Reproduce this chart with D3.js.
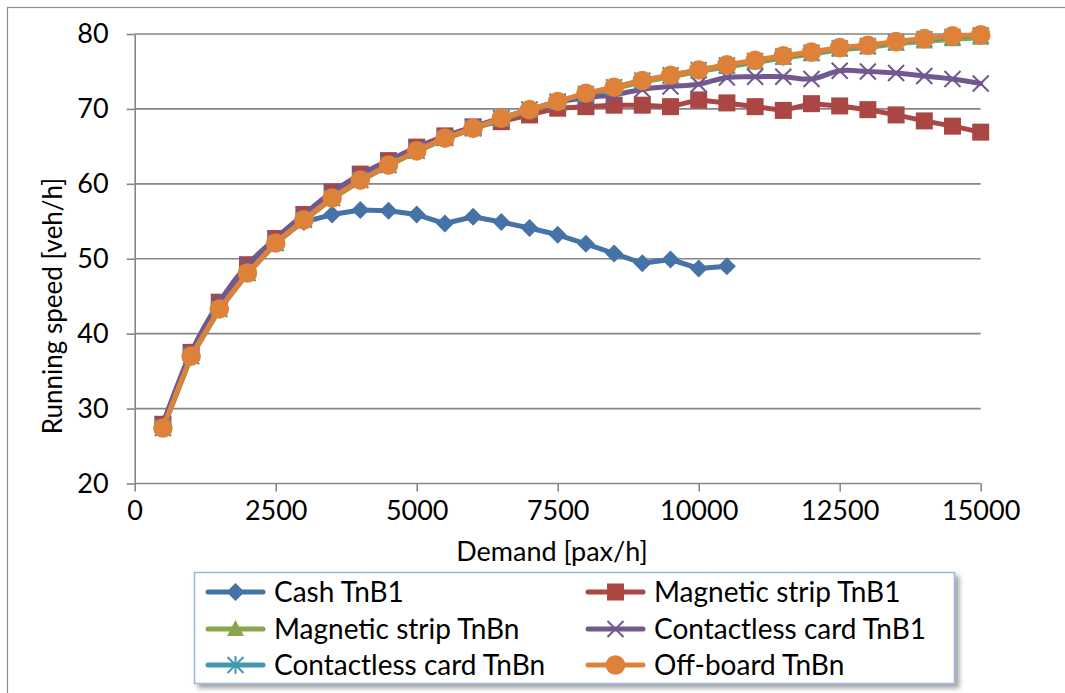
<!DOCTYPE html>
<html>
<head>
<meta charset="utf-8">
<script src="https://cdn.jsdelivr.net/npm/d3@7"></script>
<style>
  body { margin: 0; background: #fff; }
  svg { display: block; font-family: Lato, "Open Sans", sans-serif; }
  .axis path, .axis line { stroke: #868686; stroke-width: 1.6; }
  .axis text { font-size: 27px; fill: #000; font-family: Lato, sans-serif; }
</style>
</head>
<body>
<svg id="chart" width="1065" height="693"></svg>
<script>
// demand levels on the x axis
var demand = [500, 1000, 1500, 2000, 2500, 3000, 3500, 4000, 4500, 5000,
              5500, 6000, 6500, 7000, 7500, 8000, 8500, 9000, 9500, 10000,
              10500, 11000, 11500, 12000, 12500, 13000, 13500, 14000, 14500, 15000];

var cashTnB1 = [27.9, 37.5, 44.1, 49.1, 52.5, 54.9, 55.9, 56.5, 56.4, 55.9,
                54.7, 55.6, 54.9, 54.1, 53.2, 52.0, 50.7, 49.4, 49.9, 48.7, 49.0];
var magTnB1 = [27.9, 37.5, 44.2, 49.2, 52.7, 55.9, 58.9, 61.3, 63.1, 64.9,
               66.4, 67.6, 68.3, 69.2, 70.1, 70.3, 70.5, 70.5, 70.3, 71.2,
               70.8, 70.3, 69.8, 70.7, 70.4, 69.9, 69.2, 68.4, 67.7, 66.9];
var magTnBn = [27.3, 36.9, 43.2, 48.0, 52.0, 55.1, 58.0, 60.4, 62.4, 64.3,
               66.0, 67.3, 68.6, 69.8, 70.9, 71.9, 72.7, 73.6, 74.3, 75.0,
               75.6, 76.2, 76.8, 77.3, 77.9, 78.2, 78.7, 79.0, 79.3, 79.5];
var conTnB1 = [27.9, 37.5, 44.2, 49.2, 52.7, 55.9, 58.9, 61.2, 63.0, 64.8,
               66.2, 67.6, 68.8, 69.9, 70.9, 71.5, 71.9, 72.6, 73.0, 73.3,
               74.2, 74.3, 74.3, 74.0, 75.1, 75.0, 74.8, 74.4, 74.0, 73.4];
var conTnBn = [27.4, 37.0, 43.3, 48.1, 52.1, 55.2, 58.1, 60.5, 62.5, 64.4,
               66.1, 67.4, 68.7, 69.9, 71.0, 72.0, 72.9, 73.8, 74.5, 75.2,
               75.8, 76.4, 77.0, 77.5, 78.1, 78.4, 78.9, 79.3, 79.6, 79.8];
var offTnBn = [27.4, 37.0, 43.3, 48.1, 52.1, 55.2, 58.1, 60.5, 62.5, 64.4,
               66.1, 67.4, 68.75, 69.9, 71.0, 72.1, 72.9, 73.8, 74.5, 75.2,
               75.9, 76.5, 77.1, 77.6, 78.2, 78.5, 79.0, 79.4, 79.75, 79.9];

var xTicks = [0, 2500, 5000, 7500, 10000, 12500, 15000];
var yTicks = [20, 30, 40, 50, 60, 70, 80];

var series = [
  {name: "Cash TnB1", values: cashTnB1, color: "#4572A7", marker: "diamond"},
  {name: "Magnetic strip TnB1", values: magTnB1, color: "#AA4643", marker: "square"},
  {name: "Magnetic strip TnBn", values: magTnBn, color: "#89A54E", marker: "triangle"},
  {name: "Contactless card TnB1", values: conTnB1, color: "#71588F", marker: "x", smooth: true},
  {name: "Contactless card TnBn", values: conTnBn, color: "#4198AF", marker: "star"},
  {name: "Off-board TnBn", values: offTnBn, color: "#DE823A", marker: "circle"}
];

var svg = d3.select("#chart");

// chart border (runs off the right / bottom of the picture)
svg.append("rect").attr("x", 7.5).attr("y", 7.5).attr("width", 1100).attr("height", 800)
    .attr("fill", "none").attr("stroke", "#8c8c8c").attr("stroke-width", 1.2);

var x = d3.scaleLinear().domain([0, 15000]).range([134.7, 980.7]);
var y = d3.scaleLinear().domain([20, 80]).range([483.5, 34]);

// horizontal gridlines
svg.append("g").selectAll("line").data(yTicks).enter().append("line")
    .attr("x1", x(0)).attr("x2", x(15000))
    .attr("y1", function(d) { return y(d); }).attr("y2", function(d) { return y(d); })
    .attr("stroke", "#868686").attr("stroke-width", 1.6);

var yAxis = svg.append("g").attr("class", "axis")
    .attr("transform", "translate(" + x(0) + ",0)")
    .call(d3.axisLeft(y).tickValues(yTicks).tickSize(8).tickPadding(18).tickSizeOuter(0));

var xAxis = svg.append("g").attr("class", "axis")
    .attr("transform", "translate(0," + y(20) + ")")
    .call(d3.axisBottom(x).tickValues(xTicks).tickSize(8).tickPadding(8).tickSizeOuter(0)
        .tickFormat(d3.format("d")));
xAxis.select(".domain").remove();
xAxis.selectAll("text").attr("dy", "0.75em");

// axis titles
svg.append("text").attr("x", 552).attr("y", 561).attr("text-anchor", "middle")
    .attr("font-size", 27).text("Demand [pax/h]");
svg.append("text").attr("transform", "translate(62,306) rotate(-90)").attr("text-anchor", "middle")
    .attr("font-size", 26).text("Running speed [veh/h]");

function drawMarker(g, type, color) {
  if (type === "diamond") {
    g.append("path").attr("d", "M0,-9L9,0L0,9L-9,0Z").attr("fill", color);
  } else if (type === "square") {
    g.append("rect").attr("x", -8.5).attr("y", -8.5).attr("width", 17).attr("height", 17).attr("fill", color);
  } else if (type === "triangle") {
    g.append("path").attr("d", "M0,-9L8.5,7L-8.5,7Z").attr("fill", color);
  } else if (type === "circle") {
    g.append("circle").attr("r", 9.8).attr("fill", color);
  } else if (type === "x") {
    g.append("path").attr("d", "M-8,-8L8,8M-8,8L8,-8").attr("stroke", color).attr("stroke-width", 2).attr("fill", "none");
  } else if (type === "star") {
    g.append("path").attr("d", "M-8,-8L8,8M-8,8L8,-8M0,-9L0,9").attr("stroke", color).attr("stroke-width", 2).attr("fill", "none");
  }
}

series.forEach(function(s) {
  var pts = s.values.map(function(v, i) { return [demand[i], v]; });
  var line = d3.line()
      .x(function(d) { return x(d[0]); })
      .y(function(d) { return y(d[1]); })
      .curve(s.smooth ? d3.curveCatmullRom.alpha(0.5) : d3.curveLinear);
  var g = svg.append("g");
  g.append("path").datum(pts).attr("d", line)
      .attr("fill", "none").attr("stroke", s.color).attr("stroke-width", 5)
      .attr("stroke-linejoin", "round").attr("stroke-linecap", "round");
  pts.forEach(function(d) {
    var m = g.append("g").attr("transform", "translate(" + x(d[0]) + "," + y(d[1]) + ")");
    drawMarker(m, s.marker, s.color);
  });
});

// legend
var defs = svg.append("defs");
var f = defs.append("filter").attr("id", "shadow").attr("x", "-5%").attr("y", "-10%").attr("width", "115%").attr("height", "130%");
f.append("feDropShadow").attr("dx", 4).attr("dy", 4).attr("stdDeviation", 2.5)
    .attr("flood-color", "#555").attr("flood-opacity", 0.55);

svg.append("rect").attr("x", 194.5).attr("y", 572.5).attr("width", 760).attr("height", 111)
    .attr("fill", "#fff").attr("stroke", "#9DB7DD").attr("stroke-width", 1.5)
    .attr("filter", "url(#shadow)");

var legX = [208, 588];
var legY = [592, 629, 665];
series.forEach(function(s, i) {
  var lx = legX[i % 2], ly = legY[Math.floor(i / 2)];
  var g = svg.append("g").attr("transform", "translate(" + lx + "," + ly + ")");
  g.append("line").attr("x1", 0).attr("x2", 55).attr("y1", 0).attr("y2", 0)
      .attr("stroke", s.color).attr("stroke-width", 5).attr("stroke-linecap", "round");
  var m = g.append("g").attr("transform", "translate(27.5,0)");
  drawMarker(m, s.marker, s.color);
  g.append("text").attr("x", 66).attr("y", 0).attr("dy", "0.35em")
      .attr("font-size", 28).text(s.name);
});
</script>
</body>
</html>
